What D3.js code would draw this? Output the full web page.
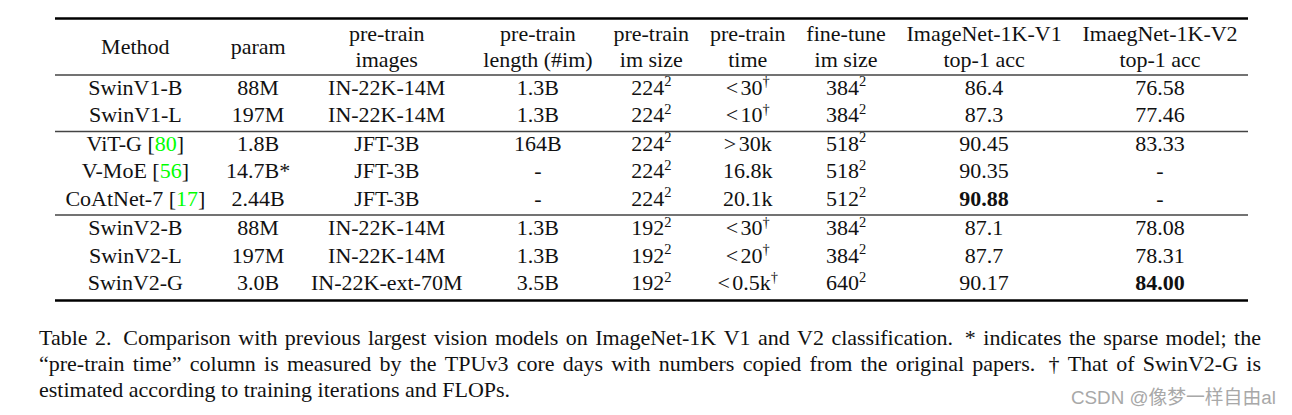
<!DOCTYPE html>
<html><head><meta charset="utf-8">
<script src="https://cdn.jsdelivr.net/npm/d3@7"></script>
<style>
body{margin:0;background:#fff;}
svg{display:block;}
text{font-family:"Liberation Serif","Times New Roman",serif;fill:#111;}
</style>
</head><body>
<svg id="c" width="1292" height="415"></svg>
<script>
// ---------- data ----------
const headerLabels = [["Method"],["param"],["pre-train","images"],["pre-train","length (#im)"],["pre-train","im size"],["pre-train","time"],["fine-tune","im size"],["ImageNet-1K-V1","top-1 acc"],["ImaegNet-1K-V2","top-1 acc"]];
const methods = ["SwinV1-B","SwinV1-L","ViT-G","V-MoE","CoAtNet-7","SwinV2-B","SwinV2-L","SwinV2-G"];
const cites = ["","","80","56","17","","",""];
const params = ["88M","197M","1.8B","14.7B*","2.44B","88M","197M","3.0B"];
const ptImages = ["IN-22K-14M","IN-22K-14M","JFT-3B","JFT-3B","JFT-3B","IN-22K-14M","IN-22K-14M","IN-22K-ext-70M"];
const ptLength = ["1.3B","1.3B","164B","-","-","1.3B","1.3B","3.5B"];
const ptImSize = [224,224,224,224,224,192,192,192];
const ptTime = ["<30","<10",">30k","16.8k","20.1k","<30","<20","<0.5k"];
const ptTimeDagger = [true,true,false,false,false,true,true,true];
const ftImSize = [384,384,518,518,512,384,384,640];
const acc1 = ["86.4","87.3","90.45","90.35","90.88","87.1","87.7","90.17"];
const acc2 = ["76.58","77.46","83.33","-","-","78.08","78.31","84.00"];
const groups = [0,0,1,1,1,2,2,2];
const bestAcc1 = 4, bestAcc2 = 7;
const captionLines = [
  "Table 2.  Comparison with previous largest vision models on ImageNet-1K V1 and V2 classification.  * indicates the sparse model; the",
  "\u201cpre-train time\u201d column is measured by the TPUv3 core days with numbers copied from the original papers.  \u2020 That of SwinV2-G is",
  "estimated according to training iterations and FLOPs."
];
const captionJustify = [true,true,false];
const watermark = "CSDN @\u50cf\u68a6\u4e00\u6837\u81ea\u7531al";

// ---------- layout constants ----------
const FS = 22, SUP = 14.5, SUPDY = 8.5;
const tableLeft = 55, tableRight = 1248;
const svg = d3.select("#c");

function timeSegs(s){
  const m = /^([<>])(.*)$/.exec(s);
  return m ? [{t:m[1]},{t:m[2],dx:2.5}] : [{t:s}];
}

// build cell segment lists
const rows = methods.map((m,i)=>[
  cites[i] ? [{t:m+" ["},{t:cites[i],color:"#00ff00"},{t:"]"}] : [{t:m}],
  [{t:params[i]}],
  [{t:ptImages[i]}],
  [{t:ptLength[i]}],
  [{t:String(ptImSize[i])},{t:"2",sup:true}],
  ptTimeDagger[i] ? [...timeSegs(ptTime[i]),{t:"\u2020",sup:true}] : timeSegs(ptTime[i]),
  [{t:String(ftImSize[i])},{t:"2",sup:true}],
  [{t:acc1[i],bold:i===bestAcc1}],
  [{t:acc2[i],bold:i===bestAcc2}]
]);

function drawCell(g, x, y, segs){
  const t = g.append("text").attr("x",x).attr("y",y).attr("text-anchor","middle").attr("font-size",FS);
  let raised = false;
  segs.forEach(s=>{
    const ts = t.append("tspan").text(s.t);
    if(s.sup){ ts.attr("font-size",SUP).attr("dy",-SUPDY); raised=true; }
    else if(raised){ ts.attr("dy",SUPDY); raised=false; }
    if(s.dx) ts.attr("dx",s.dx);
    if(s.color) ts.style("fill",s.color);
    if(s.bold) ts.attr("font-weight","bold");
  });
  return t;
}

// measure natural column widths
const meas = svg.append("g").attr("opacity",0);
const nCols = headerLabels.length;
const widths = d3.range(nCols).map(j=>{
  let w = 0;
  headerLabels[j].forEach(l=>{ w=Math.max(w, drawCell(meas,0,0,[{t:l}]).node().getComputedTextLength()); });
  rows.forEach(r=>{ w=Math.max(w, drawCell(meas,0,0,r[j]).node().getComputedTextLength()); });
  return w;
});
meas.remove();
const pad = ((tableRight-tableLeft) - d3.sum(widths)) / (2*nCols);
let acc = tableLeft;
const centers = widths.map(w=>{ const c = acc + pad + w/2; acc += w + 2*pad; return c; });
const colKeys = d3.range(nCols);
const x = d3.scaleOrdinal().domain(colKeys).range(centers);

// vertical layout
const rowStep = 27.5;
const yRow = d3.scaleLinear().domain([0,1]).range([94.5, 94.5+rowStep]);
const groupGap = [0, 1.0, 3.0];
const baseline = i => yRow(i) + groupGap[groups[i]];

const g = svg.append("g");
// header
headerLabels.forEach((lab,j)=>{
  if(lab.length===1) drawCell(g, x(j), 53.5, [{t:lab[0]}]);
  else { drawCell(g, x(j), 40.5, [{t:lab[0]}]); drawCell(g, x(j), 66.5, [{t:lab[1]}]); }
});
// body
rows.forEach((r,i)=>{ r.forEach((segs,j)=>drawCell(g, x(j), baseline(i), segs)); });

// rules
const lastOfGroup = d3.range(methods.length).filter(i=>i===methods.length-1 || groups[i+1]!==groups[i]);
const rules = [{y:18.5,w:2.4,c:"#000"},{y:75,w:1.3,c:"#444"}];
lastOfGroup.forEach(i=>{
  const isLast = i===methods.length-1;
  rules.push({y: baseline(i)+ (isLast?10.5:9.5), w: isLast?2.4:1.3, c: isLast?"#000":"#444"});
});
g.selectAll("line.rule").data(rules).join("line").attr("class","rule")
  .attr("x1",tableLeft).attr("x2",tableRight).attr("y1",d=>d.y).attr("y2",d=>d.y)
  .attr("stroke",d=>d.c).attr("stroke-width",d=>d.w);

// caption (justified)
const capLeft = 39, capRight = 1261, capBase = [345, 371, 397];
captionLines.forEach((line,k)=>{
  const words = line.split(/ +/);
  const t = svg.append("text").attr("y",capBase[k]).attr("font-size",FS);
  const spans = words.map(w=>t.append("tspan").text(w));
  const ws = spans.map(s=>s.node().getComputedTextLength());
  const gapsW = words.slice(0,-1).map((w,idx)=> /\.$/.test(w) && line.indexOf(w+"  ")>=0 ? 1.6 : 1);
  const natGap = FS*0.25;
  let gapUnit = natGap;
  if(captionJustify[k]){
    gapUnit = ((capRight-capLeft) - d3.sum(ws)) / d3.sum(gapsW);
  }
  let cx = capLeft;
  spans.forEach((s,idx)=>{ s.attr("x",cx); cx += ws[idx] + (idx<gapsW.length ? gapsW[idx]*gapUnit : 0); });
});

// watermark
svg.append("text").attr("x",1071).attr("y",404).attr("font-size",18.8)
  .style("font-family",'"Liberation Sans","Noto Sans CJK SC",sans-serif').style("fill","#a8a8a8")
  .text(watermark);
</script>
</body></html>
